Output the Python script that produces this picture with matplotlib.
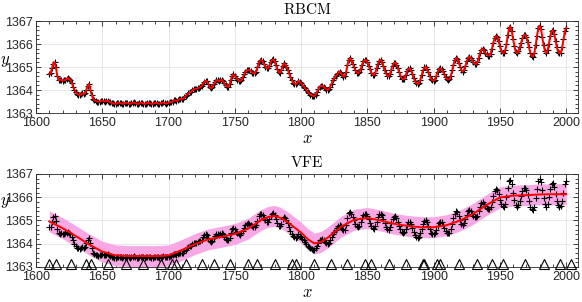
import numpy as np
import matplotlib
matplotlib.use("Agg")
import matplotlib.pyplot as plt
from matplotlib.ticker import MultipleLocator

plt.rcParams['font.family'] = ['Liberation Sans', 'DejaVu Sans']
plt.rcParams['mathtext.fontset'] = 'cm'

# yearly observations 1610 .. 2000
years = np.arange(1610, 2001)
irradiance = np.array([
    1364.70, 1364.72, 1364.95, 1365.15, 1365.20, 1364.98, 1364.62, 1364.45, 1364.42, 1364.45,
    1364.40, 1364.42, 1364.45, 1364.48, 1364.52, 1364.48, 1364.42, 1364.30, 1364.15, 1364.00,
    1363.90, 1363.82, 1363.80, 1363.78, 1363.82, 1363.86, 1363.82, 1363.85, 1364.02, 1364.18,
    1364.25, 1364.02, 1363.80, 1363.62, 1363.55, 1363.52, 1363.50, 1363.49, 1363.50, 1363.52,
    1363.54, 1363.52, 1363.50, 1363.52, 1363.54, 1363.50, 1363.46, 1363.44, 1363.42, 1363.40,
    1363.40, 1363.42, 1363.45, 1363.44, 1363.42, 1363.40, 1363.41, 1363.44, 1363.45, 1363.43,
    1363.41, 1363.40, 1363.42, 1363.45, 1363.46, 1363.43, 1363.40, 1363.40, 1363.43, 1363.45,
    1363.44, 1363.41, 1363.40, 1363.41, 1363.44, 1363.45, 1363.43, 1363.40, 1363.40, 1363.42,
    1363.45, 1363.44, 1363.41, 1363.40, 1363.42, 1363.45, 1363.46, 1363.43, 1363.41, 1363.42,
    1363.45, 1363.48, 1363.47, 1363.50, 1363.55, 1363.55, 1363.52, 1363.55, 1363.60, 1363.62,
    1363.60, 1363.62, 1363.68, 1363.75, 1363.80, 1363.85, 1363.90, 1363.92, 1363.98, 1364.05,
    1364.05, 1364.05, 1364.08, 1364.10, 1364.12, 1364.18, 1364.28, 1364.36, 1364.40, 1364.38,
    1364.25, 1364.12, 1364.07, 1364.12, 1364.25, 1364.35, 1364.42, 1364.43, 1364.38, 1364.42,
    1364.45, 1364.40, 1364.30, 1364.20, 1364.15, 1364.14, 1364.25, 1364.45, 1364.62, 1364.68,
    1364.62, 1364.52, 1364.45, 1364.40, 1364.39, 1364.45, 1364.55, 1364.68, 1364.80, 1364.86,
    1364.88, 1364.87, 1364.82, 1364.76, 1364.73, 1364.72, 1364.80, 1364.98, 1365.18, 1365.28,
    1365.30, 1365.25, 1365.12, 1365.00, 1364.95, 1364.94, 1365.05, 1365.20, 1365.30, 1365.33,
    1365.25, 1365.08, 1364.90, 1364.78, 1364.75, 1364.85, 1365.05, 1365.16, 1365.10, 1365.00,
    1364.88, 1364.72, 1364.55, 1364.42, 1364.32, 1364.28, 1364.25, 1364.30, 1364.40, 1364.35,
    1364.30, 1364.22, 1364.15, 1364.08, 1364.00, 1363.92, 1363.85, 1363.80, 1363.76, 1363.75,
    1363.74, 1363.80, 1363.92, 1364.05, 1364.15, 1364.18, 1364.19, 1364.15, 1364.08, 1364.02,
    1364.00, 1364.05, 1364.15, 1364.28, 1364.42, 1364.52, 1364.60, 1364.68, 1364.75, 1364.80,
    1364.75, 1364.65, 1364.58, 1364.60, 1364.80, 1365.10, 1365.32, 1365.38, 1365.30, 1365.15,
    1365.00, 1364.85, 1364.75, 1364.72, 1364.78, 1364.92, 1365.10, 1365.25, 1365.30, 1365.30,
    1365.20, 1365.05, 1364.90, 1364.75, 1364.67, 1364.65, 1364.75, 1364.95, 1365.15, 1365.28,
    1365.30, 1365.22, 1365.05, 1364.88, 1364.72, 1364.62, 1364.60, 1364.70, 1364.88, 1365.05,
    1365.17, 1365.19, 1365.10, 1364.95, 1364.78, 1364.62, 1364.50, 1364.46, 1364.50, 1364.65,
    1364.82, 1364.92, 1364.94, 1364.85, 1364.68, 1364.52, 1364.38, 1364.30, 1364.26, 1364.30,
    1364.45, 1364.65, 1364.85, 1364.98, 1365.01, 1364.92, 1364.78, 1364.62, 1364.48, 1364.42,
    1364.40, 1364.45, 1364.60, 1364.78, 1364.90, 1364.94, 1364.92, 1364.82, 1364.68, 1364.55,
    1364.48, 1364.45, 1364.48, 1364.62, 1364.85, 1365.10, 1365.30, 1365.40, 1365.35, 1365.18,
    1365.00, 1364.85, 1364.80, 1364.88, 1365.05, 1365.25, 1365.40, 1365.45, 1365.40, 1365.30,
    1365.20, 1365.15, 1365.13, 1365.20, 1365.40, 1365.60, 1365.75, 1365.80, 1365.72, 1365.62,
    1365.55, 1365.50, 1365.50, 1365.58, 1365.80, 1366.05, 1366.25, 1366.35, 1366.32, 1366.15,
    1365.90, 1365.70, 1365.62, 1365.60, 1365.72, 1366.00, 1366.40, 1366.70, 1366.75, 1366.55,
    1366.20, 1365.90, 1365.65, 1365.60, 1365.68, 1365.85, 1366.05, 1366.25, 1366.38, 1366.40,
    1366.30, 1366.10, 1365.85, 1365.60, 1365.48, 1365.45, 1365.60, 1365.95, 1366.35, 1366.70,
    1366.80, 1366.65, 1366.30, 1365.95, 1365.70, 1365.60, 1365.72, 1366.00, 1366.35, 1366.55,
    1366.60, 1366.45, 1366.15, 1365.85, 1365.65, 1365.60, 1365.62, 1365.85, 1366.20, 1366.55,
    1366.70,
])
rbcm_std = 0.06

# VFE predictive mean (read at knots) and std
vfe_years = [1610, 1620, 1630, 1640, 1650, 1660, 1670, 1680, 1690, 1700,
             1710, 1720, 1730, 1740, 1750, 1760, 1770, 1775, 1780, 1785,
             1790, 1800, 1805, 1810, 1815, 1820, 1830, 1840, 1850, 1860,
             1870, 1880, 1890, 1900, 1910, 1920, 1930, 1940, 1950, 1960,
             1970, 1980, 1990, 2000]
vfe_mean = [1364.96, 1364.67, 1364.33, 1363.97, 1363.66, 1363.50, 1363.47, 1363.47, 1363.47, 1363.50,
            1363.73, 1363.99, 1364.19, 1364.30, 1364.42, 1364.65, 1365.03, 1365.15, 1365.20, 1365.10,
            1364.92, 1364.48, 1364.20, 1364.01, 1364.08, 1364.26, 1364.73, 1365.03, 1365.11, 1365.00,
            1364.86, 1364.77, 1364.71, 1364.71, 1364.80, 1365.00, 1365.29, 1365.67, 1365.99, 1366.07,
            1366.09, 1366.12, 1366.13, 1366.13]
vfe_std = 0.45

# inducing inputs
inducing_x = [1609.8, 1615.1, 1626.1, 1637.4, 1641.2, 1654.5, 1667.6, 1680.4, 1694.0, 1702.4,
              1706.0, 1712.8, 1725.6, 1734.3, 1746.7, 1760.0, 1767.0, 1780.0, 1793.1, 1796.4,
              1809.4, 1822.7, 1834.5, 1848.6, 1852.9, 1866.1, 1879.2, 1892.0, 1892.6, 1902.3,
              1904.9, 1918.9, 1932.7, 1944.0, 1952.5, 1968.9, 1983.4, 1995.2, 2003.5]
inducing_y = 1363.13

band = '#f8a8e4'
edge = '#262626'

fig = plt.figure(figsize=(5.82, 3.02), dpi=100)
ax1 = fig.add_axes([0.0619, 0.6258, 0.9313, 0.3046])
ax2 = fig.add_axes([0.0619, 0.1159, 0.9313, 0.3080])

vfe_mean_arr = np.array(vfe_mean)

ax1.fill_between(years, irradiance - rbcm_std, irradiance + rbcm_std, color=band, lw=0, zorder=1)
ax1.plot(years, irradiance, '+', color='black', ms=4.5, mew=0.8, zorder=2)
ax1.plot(years, irradiance, '-', color='red', lw=1.4, zorder=3)

ax2.fill_between(vfe_years, vfe_mean_arr - vfe_std, vfe_mean_arr + vfe_std, color=band, lw=0, zorder=1)
ax2.plot(years, irradiance, '+', color='black', ms=4.5, mew=0.8, zorder=2)
ax2.plot(vfe_years, vfe_mean, '-', color='red', lw=1.4, zorder=3)
ax2.plot(inducing_x, [inducing_y] * len(inducing_x), '^', ms=6.5, mfc='none', mec='black',
         mew=0.8, zorder=4, clip_on=False)

for ax, title, ylab_y in [(ax1, 'RBCM', 0.56), (ax2, 'VFE', 0.69)]:
    ax.set_xlim(1600, 2009)
    ax.set_ylim(1363, 1367)
    ax.xaxis.set_major_locator(MultipleLocator(50))
    ax.xaxis.set_minor_locator(MultipleLocator(10))
    ax.yaxis.set_major_locator(MultipleLocator(1))
    ax.yaxis.set_minor_locator(MultipleLocator(0.2))
    ax.tick_params(which='both', direction='in', top=True, right=True, color=edge,
                   labelsize=9, labelcolor=edge, width=0.6)
    ax.tick_params(which='major', length=3.5, pad=3)
    ax.tick_params(which='minor', length=2)
    ax.tick_params(axis='y', pad=2)
    ax.grid(True, which='major', color='#e3e3e3', lw=0.6, zorder=0)
    ax.set_axisbelow(True)
    for s in ax.spines.values():
        s.set_color(edge)
        s.set_linewidth(0.6)
    ax.set_title(r'$\mathrm{' + title + '}$', fontsize=11, pad=5)
    ax.set_xlabel(r'$x$', fontsize=12, labelpad=1)
    ax.set_ylabel(r'$y$', fontsize=12, rotation=0, va='center', ha='center')
    ax.yaxis.set_label_coords(-0.058, ylab_y)

fig.savefig('out.png', dpi=100)
